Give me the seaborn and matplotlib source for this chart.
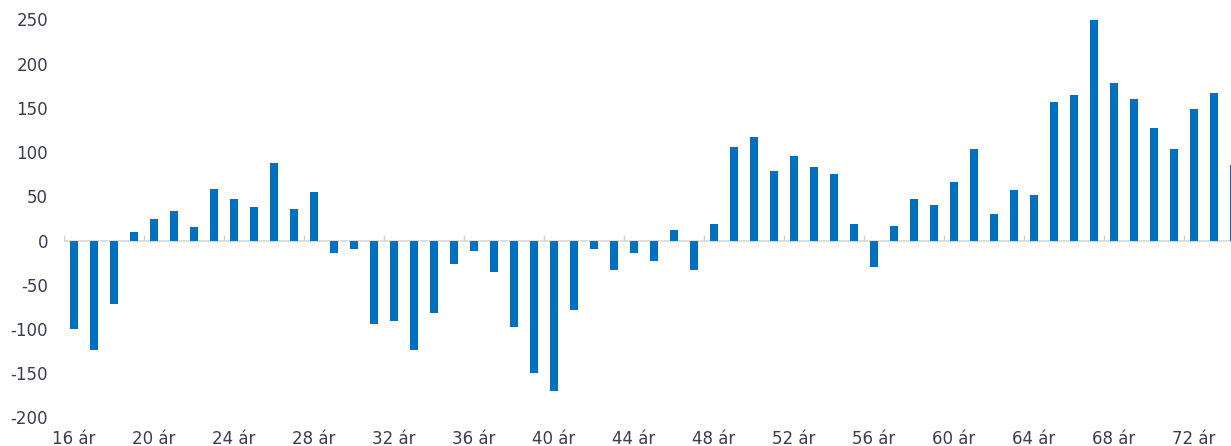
import matplotlib
matplotlib.use("Agg")
import matplotlib.pyplot as plt
import numpy as np
import pandas as pd
import seaborn as sns

# Data: one value per age, 16 ár .. 74 ár
ages = list(range(16, 75))
labels = [f"{a} ár" for a in ages]
values = [-100, -124, -72, 10, 25, 33, 15, 58, 47, 38, 88, 36, 55, -14, -10, -94, -91, -124,
          -82, -27, -12, -36, -98, -150, -170, -78, -9, -33, -14, -23, 12, -33, 19, 106, 117, 79, 96, 83,
          75, 19, -30, 17, 47, 40, 66, 104, 30, 57, 52, 157, 165, 250, 178, 160, 127, 104, 149, 167, 86]
y_ticks = [-200, -150, -100, -50, 0, 50, 100, 150, 200, 250]

df = pd.DataFrame({"age": labels, "value": values})

sns.set_style("white")
plt.rcParams['font.family'] = ['DejaVu Sans']

bar_color = "#0070C0"
text_color = "#3b3b54"

fig = plt.figure(figsize=(12.31, 4.46), dpi=100)
# axes runs a little past the right edge, like the original crop
ax = fig.add_axes([64 / 1231, 28.5 / 446, 1180 / 1231, 398 / 446])

sns.barplot(data=df, x="age", y="value", order=labels, color=bar_color,
            saturation=1, width=0.4, linewidth=0, ax=ax, zorder=3)

ax.set_xlim(-0.5, len(labels) - 0.5)
ax.set_ylim(-200, 250)
ax.set_yticks(y_ticks)
ax.set_yticklabels([str(v) for v in y_ticks])
ax.set_xticks(range(0, len(labels), 4))
ax.set_xticklabels(labels[::4])

ax.tick_params(axis="both", length=0, labelsize=12, labelcolor=text_color)
ax.tick_params(axis="y", pad=11.5)
ax.tick_params(axis="x", pad=9)

# zero line with small upward ticks every 4 categories
ax.axhline(0, color="#d9d9d9", lw=1.2, zorder=2)
ax.vlines(np.arange(-0.5, len(labels), 4), 0, 6, color="#d0d0d0", lw=1, zorder=2)

ax.set_xlabel("")
ax.set_ylabel("")
sns.despine(ax=ax, left=True, bottom=True)

fig.savefig("out.png", dpi=100)
